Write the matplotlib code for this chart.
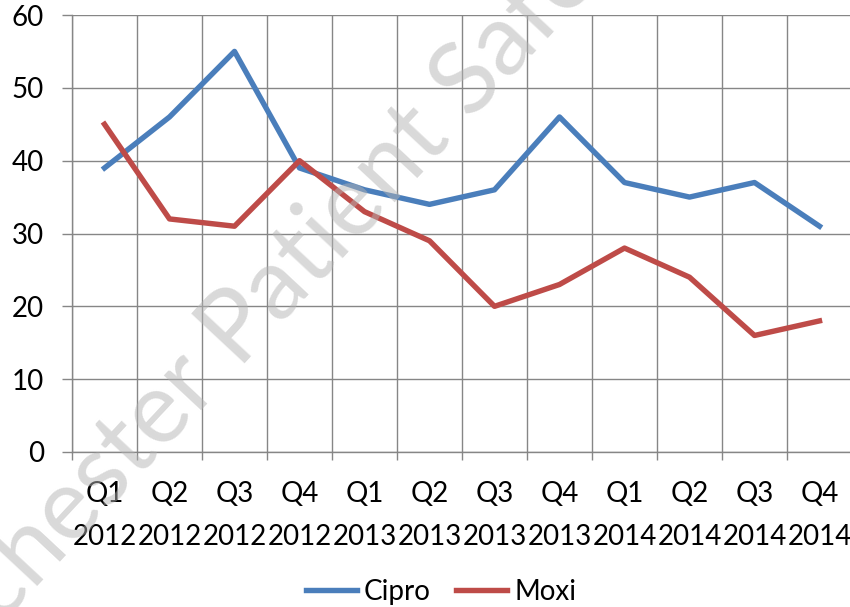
import matplotlib
matplotlib.use("Agg")
import matplotlib.pyplot as plt
import numpy as np

# Data
quarters = ["Q1\n2012", "Q2\n2012", "Q3\n2012", "Q4\n2012",
            "Q1\n2013", "Q2\n2013", "Q3\n2013", "Q4\n2013",
            "Q1\n2014", "Q2\n2014", "Q3\n2014", "Q4\n2014"]
cipro = [39, 46, 55, 39, 36, 34, 36, 46, 37, 35, 37, 31]
moxi = [45, 32, 31, 40, 33, 29, 20, 23, 28, 24, 16, 18]

plt.rcParams['font.family'] = ['Lato', 'DejaVu Sans']

fig = plt.figure(figsize=(8.5, 6.07), dpi=100)
ax = fig.add_axes([72/850, 1 - 452/607, 780/850, 437/607])

x = np.arange(len(quarters))
ax.plot(x, cipro, color='#4A7EBB', linewidth=3.9, label='Cipro')
ax.plot(x, moxi, color='#BE4B48', linewidth=3.9, label='Moxi')

ax.set_xlim(-0.5, len(quarters) - 0.5)
ax.set_ylim(0, 60)

# Category labels in the middle, grid/ticks on the boundaries
ax.set_xticks(x)
ax.set_xticklabels(quarters, fontsize=20, linespacing=1.8)
ax.set_xticks(np.arange(-0.5, len(quarters)), minor=True)
ax.tick_params(axis='x', which='major', length=0, pad=21)
ax.tick_params(axis='x', which='minor', length=6, width=1, color='#868686')
ax.set_yticks(np.arange(0, 61, 10))
ax.tick_params(axis='y', labelsize=20, length=7.2, width=1, color='#868686', pad=13)

# Grid
ax.grid(axis='y', which='major', color='#868686', linewidth=1)
ax.grid(axis='x', which='minor', color='#868686', linewidth=1)
ax.set_axisbelow(True)

for side in ['top', 'right']:
    ax.spines[side].set_visible(False)
for side in ['left', 'bottom']:
    ax.spines[side].set_color('#868686')
    ax.spines[side].set_linewidth(1)

# Legend
fig.legend(loc='center', bbox_to_anchor=(441/850, 1 - 592/607), ncol=2,
           frameon=False, fontsize=20, handlelength=1.85, handletextpad=0.25,
           columnspacing=0.9)

# Watermark
wm = dict(fontsize=72, color='#b4b4b4', alpha=0.5, rotation=47,
          rotation_mode='anchor', va='baseline', zorder=10)
fig.text(222/850, 1 - 388/607, "Greater Manchester", ha='right', **wm)
fig.text(222/850, 1 - 388/607, " Patient Safety Translational Research Centre",
         ha='left', **wm)

plt.savefig("out.png", dpi=100)
